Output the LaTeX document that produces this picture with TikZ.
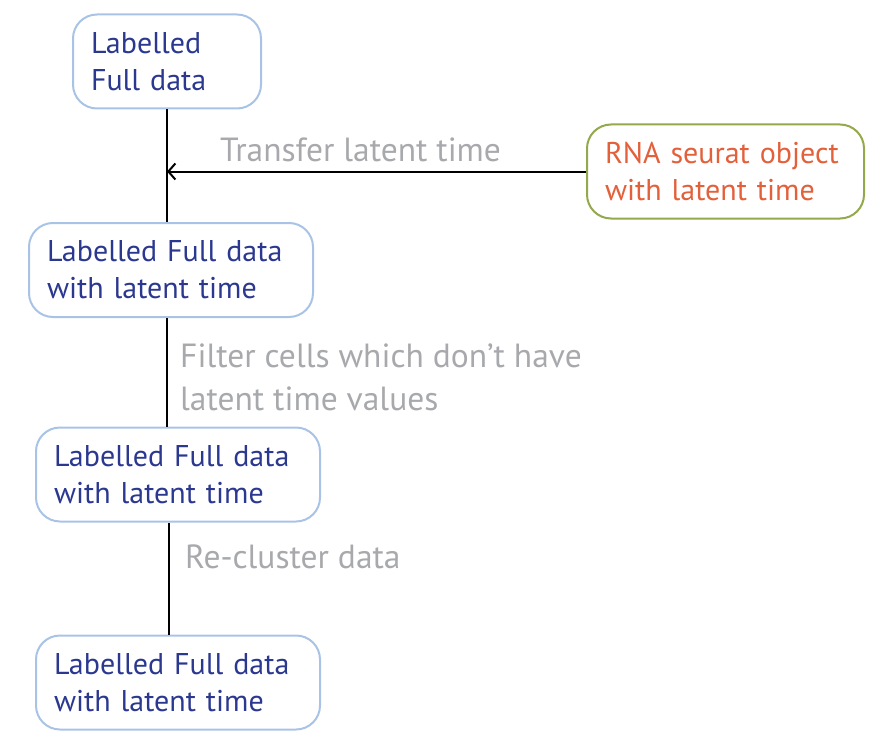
\documentclass[tikz,border=0pt]{standalone}
\usepackage{fontspec}
\setmainfont{PT Sans}
\usetikzlibrary{arrows.meta,positioning}
\definecolor{boxblue}{HTML}{A9C3E6}
\definecolor{textnavy}{HTML}{2B388F}
\definecolor{rnaorange}{HTML}{E2603A}
\definecolor{rnagreen}{HTML}{94A84C}
\definecolor{labelgray}{HTML}{A7A9AC}
\tikzset{%
    data box/.style={
    draw=boxblue, line width=2pt, rounded corners=24pt,
    text=textnavy, align=left, inner xsep=18pt, inner ysep=0pt,
    minimum height=94pt, text width=#1-36pt,
    font=\fontsize{30}{37}\selectfont},
    data box/.default=284pt,
    rna box/.style={data box=277pt, draw=rnagreen, text=rnaorange},
    step label/.style={anchor=base west, text=labelgray, align=left,
    inner sep=0pt, font=\fontsize{33.5}{43}\selectfont},
    link/.style={line width=2pt, black},
}

\begin{document}
\begin{tikzpicture}[x=1pt,y=-1pt]
 \useasboundingbox (0,0) rectangle (882,746);
 \node[data box=188pt] (full) at (167,61.5) {Labelled\\Full data};
 \node[data box] (fulltime) at (171,270) {Labelled Full data\\with latent time};
 \node[data box] (filtered) at (178,474.5) {Labelled Full data\\with latent time};
 \node[data box] (clustered) at (178,682.5) {Labelled Full data\\with latent time};
 \node[rna box] (rna) at (725.5,171.5) {RNA~seurat~object\\with~latent~time};
 % connectors
 \draw[link] (full.south) -- (fulltime.north -| full.south) coordinate (join);
 \coordinate (meet) at (full.south |- rna.west);
 \draw[link,-{Straight Barb[length=7pt,width=16pt]}] (rna.west) -- (meet);
 \draw[link] (fulltime.south -| 167,0) -- (filtered.north -| 167,0);
 \draw[link] (filtered.south -| 169,0) -- (clustered.north -| 169,0);
 % step labels
 \node[step label] (transfer) at (220,161) {Transfer latent time};
 \node[step label] (filter) at (180,410) {Filter cells which don’t have\\latent time values};
 \node[step label] (recluster) at (185,568) {Re-cluster data};
\end{tikzpicture}
\end{document}
